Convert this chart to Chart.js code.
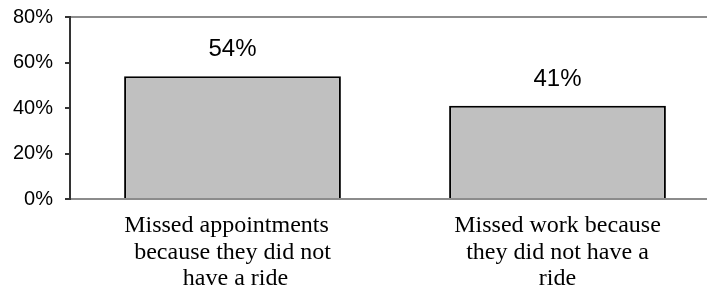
<!DOCTYPE html>
<html>
<head>
<meta charset="utf-8">
<script src="https://cdn.jsdelivr.net/npm/chart.js@4/dist/chart.umd.min.js"></script>
<style>
  html, body { margin: 0; padding: 0; background: #fff; overflow: hidden; }
  #wrap { width: 707px; height: 295px; overflow: hidden; }
</style>
</head>
<body>
<div id="wrap"><canvas id="chart" width="720" height="295"></canvas></div>
<script>
const categories = [
  ["Missed appointments  ", "because they did not", " have a ride"],
  ["Missed work because", "they did not have a", "ride"]
];
const values = [54, 41];
const yTicks = [0, 20, 40, 60, 80];

// value labels above each bar
const valueLabels = {
  id: "valueLabels",
  afterDatasetsDraw(chart) {
    const { ctx } = chart;
    const meta = chart.getDatasetMeta(0);
    ctx.save();
    ctx.font = "24px 'Liberation Sans', Arial, sans-serif";
    ctx.fillStyle = "#000";
    ctx.textAlign = "center";
    ctx.textBaseline = "alphabetic";
    meta.data.forEach((bar, i) => {
      ctx.fillText(values[i] + "%", bar.x, bar.y - 20);
    });
    ctx.restore();
  }
};

new Chart(document.getElementById("chart"), {
  type: "bar",
  data: {
    labels: categories,
    datasets: [{
      data: values,
      backgroundColor: "#c0c0c0",
      borderColor: "#000",
      borderWidth: 2,
      categoryPercentage: 1,
      barPercentage: 0.667
    }]
  },
  options: {
    responsive: false,
    animation: false,
    layout: { padding: { top: 17, left: 0, right: 0, bottom: 0 } },
    plugins: { legend: { display: false }, tooltip: { enabled: false } },
    scales: {
      x: {
        grid: { display: false, drawTicks: false },
        border: { color: "#8c8c8c", width: 2 },
        ticks: {
          color: "#000",
          padding: 13,
          maxRotation: 0,
          autoSkip: false,
          font: { family: "'Liberation Serif', 'Times New Roman', serif", size: 24, lineHeight: 1.12 }
        },
        afterFit(scale) { scale.height = 96; }
      },
      y: {
        min: 0,
        max: 80,
        afterBuildTicks(scale) { scale.ticks = yTicks.map(v => ({ value: v })); },
        grid: {
          color: (c) => c.tick && c.tick.value === 80 ? "#8c8c8c" : "rgba(0,0,0,0)",
          lineWidth: 2,
          tickColor: "#333",
          tickLength: 5,
          drawTicks: true
        },
        border: { color: "#333", width: 2 },
        ticks: {
          color: "#000",
          padding: 12,
          callback: (v) => v + "%",
          font: { family: "'Liberation Sans', Arial, sans-serif", size: 20 }
        },
        afterFit(scale) {
          scale.width = 70;
          scale.paddingTop = 0;
          scale.paddingBottom = 0;
        }
      }
    }
  },
  plugins: [valueLabels]
});
</script>
</body>
</html>
